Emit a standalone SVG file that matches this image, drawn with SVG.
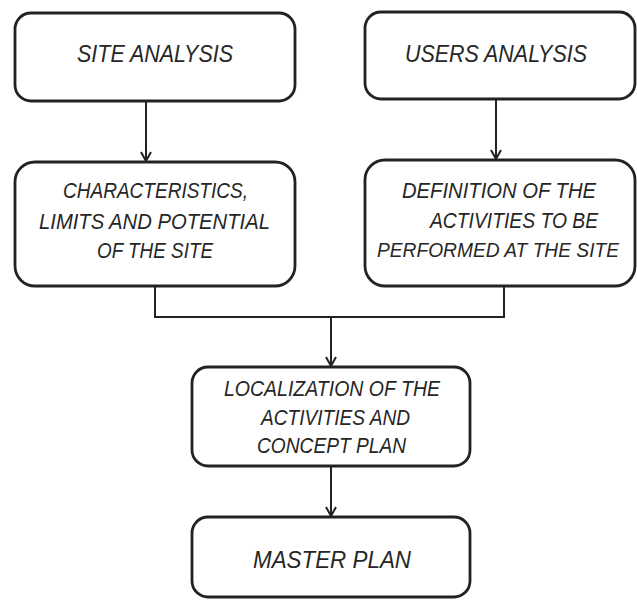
<svg xmlns="http://www.w3.org/2000/svg" width="637" height="600" viewBox="0 0 637 600">
<style>
.box{fill:#fff;stroke:#222;stroke-width:2.8}
.t{font-family:"Liberation Sans",Arial,sans-serif;font-style:italic;font-size:21.5px;fill:#262626;text-anchor:middle}
.big{font-size:23px}
.sm{font-size:20px}
.c{fill:none;stroke:#222;stroke-width:2}
</style>
<defs>
<marker id="arr" viewBox="0 0 12 12" refX="10" refY="6" markerWidth="12" markerHeight="12" markerUnits="userSpaceOnUse" orient="auto">
<path d="M1,1 L10,6 L1,11" fill="none" stroke="#222" stroke-width="2"/>
</marker>
</defs>
<rect width="637" height="600" fill="#fff"/>
<g id="connectors">
<path class="c" d="M146,101 V161" marker-end="url(#arr)"/>
<path class="c" d="M496,99 V159" marker-end="url(#arr)"/>
<path class="c" d="M155,286 V317 H504 V286"/>
<path class="c" d="M331,317 V366" marker-end="url(#arr)"/>
<path class="c" d="M331,466 V516" marker-end="url(#arr)"/>
</g>
<g id="site-analysis">
<rect class="box" x="15" y="13" width="280" height="88" rx="16"/>
<text class="t big" x="155" y="62" textLength="156" lengthAdjust="spacingAndGlyphs">SITE ANALYSIS</text>
</g>
<g id="users-analysis">
<rect class="box" x="365" y="12" width="270" height="87" rx="16"/>
<text class="t big" x="496" y="62" textLength="182" lengthAdjust="spacingAndGlyphs">USERS ANALYSIS</text>
</g>
<g id="characteristics">
<rect class="box" x="15" y="162" width="280" height="124" rx="20"/>
<text class="t" x="155.5" y="198" textLength="185" lengthAdjust="spacingAndGlyphs">CHARACTERISTICS,</text>
<text class="t" x="154.5" y="229" textLength="231" lengthAdjust="spacingAndGlyphs">LIMITS AND POTENTIAL</text>
<text class="t" x="155" y="258" textLength="116" lengthAdjust="spacingAndGlyphs">OF THE SITE</text>
</g>
<g id="definition">
<rect class="box" x="365" y="160" width="270" height="126" rx="20"/>
<text class="t" x="499" y="198" textLength="194" lengthAdjust="spacingAndGlyphs">DEFINITION OF THE</text>
<text class="t" x="514" y="228" textLength="168" lengthAdjust="spacingAndGlyphs">ACTIVITIES TO BE</text>
<text class="t sm" x="498" y="257" textLength="242" lengthAdjust="spacingAndGlyphs">PERFORMED AT THE SITE</text>
</g>
<g id="localization">
<rect class="box" x="192" y="367" width="278" height="99" rx="16"/>
<text class="t" x="332" y="396" textLength="216" lengthAdjust="spacingAndGlyphs">LOCALIZATION OF THE</text>
<text class="t" x="335.5" y="424.5" textLength="149" lengthAdjust="spacingAndGlyphs">ACTIVITIES AND</text>
<text class="t" x="331.5" y="453" textLength="149" lengthAdjust="spacingAndGlyphs">CONCEPT PLAN</text>
</g>
<g id="master-plan">
<rect class="box" x="192" y="517" width="278" height="80" rx="16"/>
<text class="t big" x="332" y="568" textLength="158" lengthAdjust="spacingAndGlyphs">MASTER PLAN</text>
</g>
</svg>
